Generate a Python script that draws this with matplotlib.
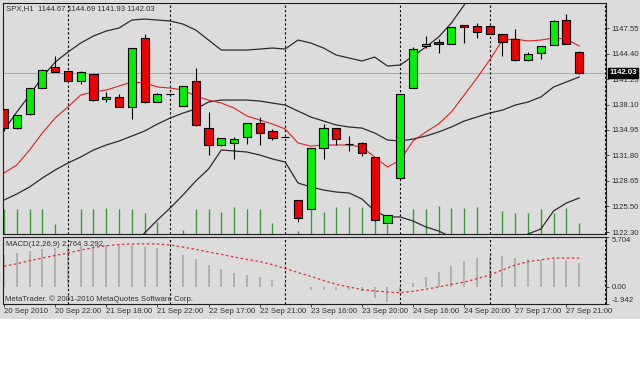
import matplotlib
matplotlib.use("Agg")
import matplotlib.pyplot as plt
from matplotlib.patches import Rectangle
import numpy as np

plt.rcParams['font.family'] = ['Liberation Sans', 'DejaVu Sans']

# SPX H1 candles
opens = [1137.55, 1135.19, 1136.93, 1140.15, 1142.76, 1142.26, 1141.02, 1141.89, 1138.79, 1139.04,
         1137.80, 1146.35, 1138.42, 1139.41, 1137.92, 1141.02, 1135.19, 1133.09, 1133.34, 1134.08,
         1135.81, 1134.82, 1134.08, 1126.27, 1125.16, 1132.72, 1135.19, 1133.21, 1133.34, 1131.60,
         1123.42, 1129.00, 1140.15, 1145.36, 1145.85, 1145.61, 1147.96, 1147.83, 1147.83, 1146.84,
         1146.22, 1143.62, 1144.49, 1145.48, 1148.58, 1144.67]
highs = [1137.60, 1136.85, 1140.20, 1142.45, 1144.12, 1142.30, 1142.26, 1141.95, 1139.66, 1139.41,
         1145.15, 1146.84, 1139.53, 1139.45, 1140.45, 1142.63, 1137.18, 1134.00, 1134.08, 1135.85,
         1136.56, 1135.07, 1134.12, 1126.30, 1132.75, 1135.69, 1135.25, 1134.20, 1133.46, 1131.65,
         1124.45, 1139.45, 1145.23, 1146.60, 1146.22, 1147.75, 1148.00, 1148.21, 1147.90, 1146.90,
         1147.46, 1144.61, 1145.40, 1148.58, 1149.32, 1144.69]
lows = [1134.82, 1135.10, 1136.81, 1140.10, 1142.10, 1140.95, 1140.65, 1138.60, 1138.42, 1137.75,
        1136.31, 1138.35, 1138.40, 1139.38, 1137.90, 1135.50, 1131.85, 1133.00, 1131.36, 1133.21,
        1133.09, 1133.71, 1134.05, 1123.55, 1125.10, 1131.36, 1133.09, 1132.35, 1131.73, 1123.70,
        1123.40, 1128.95, 1140.10, 1145.11, 1144.49, 1145.55, 1145.73, 1146.35, 1146.80, 1144.12,
        1143.55, 1143.55, 1143.75, 1145.45, 1145.55, 1141.93]
closes = [1135.19, 1136.81, 1140.15, 1142.38, 1142.14, 1141.02, 1142.14, 1138.66, 1139.04, 1137.80,
          1145.11, 1138.42, 1139.41, 1139.41, 1140.40, 1135.57, 1133.09, 1133.96, 1133.83, 1135.81,
          1134.58, 1133.96, 1134.08, 1124.04, 1132.72, 1135.19, 1133.83, 1133.21, 1132.10, 1123.79,
          1124.41, 1139.41, 1144.98, 1145.61, 1145.61, 1147.71, 1147.71, 1147.09, 1146.84, 1145.85,
          1143.62, 1144.37, 1145.36, 1148.45, 1145.61, 1142.03]
volumes = [2500, 2500, 2500, 2500, 1000, 0, 2500, 2500, 2600, 2500,
           2500, 2100, 1200, 0, 400, 2500, 2500, 2200, 2700, 2500,
           2500, 1100, 0, 300, 2500, 2200, 2700, 2700, 2700, 1800,
           1000, 0, 2500, 2500, 2800, 2600, 2600, 2700, 0, 2300,
           2100, 2100, 2500, 2100, 2600, 1100]

# Bollinger bands (black) and moving average (red)
bb_upper = [1134.95, 1137.18, 1139.28, 1141.52, 1143.37, 1144.61, 1145.73, 1146.60, 1147.22, 1147.59,
            1148.58, 1148.70, 1148.58, 1148.46, 1148.08, 1147.34, 1146.10, 1144.86, 1144.86, 1144.86,
            1144.98, 1145.11, 1144.98, 1146.10, 1145.73, 1145.11, 1144.24, 1143.87, 1143.50, 1143.99,
            1142.88, 1143.00, 1144.12, 1145.23, 1146.47, 1148.21, 1150.44, 1153.04, 1154.28, 1154.77,
            1155.02, 1154.77, 1155.39, 1155.64, 1155.89, 1156.51]
bb_mid = [1126.27, 1127.02, 1127.89, 1129.00, 1129.99, 1130.86, 1131.60, 1132.47, 1133.09, 1133.58,
          1134.20, 1134.82, 1135.69, 1136.43, 1137.05, 1137.55, 1138.42, 1138.66, 1138.66, 1138.66,
          1138.54, 1138.29, 1138.04, 1137.30, 1136.56, 1136.06, 1135.57, 1135.32, 1135.19, 1134.58,
          1133.71, 1133.58, 1133.83, 1134.20, 1134.70, 1135.32, 1136.06, 1136.56, 1137.05, 1137.42,
          1138.04, 1138.42, 1139.04, 1140.28, 1140.90, 1141.52]
bb_lower = [1117.60, 1116.86, 1116.48, 1116.48, 1116.61, 1117.10, 1117.48, 1118.34, 1118.96, 1119.33,
            1120.70, 1122.18, 1123.79, 1125.28, 1126.89, 1128.63, 1130.11, 1132.47, 1132.35, 1132.22,
            1131.85, 1131.36, 1130.98, 1128.38, 1127.89, 1127.51, 1127.26, 1127.14, 1126.40, 1124.91,
            1124.17, 1124.17, 1123.67, 1122.93, 1122.43, 1121.69, 1120.70, 1120.08, 1119.83, 1120.08,
            1121.07, 1122.06, 1122.68, 1124.91, 1125.90, 1126.52]
ma_red = [1129.62, 1130.61, 1132.47, 1134.58, 1136.43, 1137.80, 1139.28, 1139.66, 1139.90, 1140.40,
          1140.90, 1140.77, 1140.28, 1140.15, 1139.90, 1139.16, 1138.66, 1138.29, 1137.67, 1136.68,
          1136.19, 1135.69, 1135.07, 1133.34, 1132.96, 1133.09, 1133.09, 1133.09, 1132.84, 1131.60,
          1130.36, 1131.23, 1133.58, 1134.70, 1135.69, 1137.18, 1139.28, 1141.39, 1143.62, 1146.10,
          1146.22, 1145.98, 1146.10, 1146.35, 1146.22, 1145.36]

# MACD(12,26,9)
macd = [3.70, 3.88, 4.11, 4.34, 4.45, 4.57, 4.68, 4.68, 4.79, 4.79,
        4.79, 4.57, 4.45, 4.00, 3.65, 3.20, 2.51, 2.05, 1.60, 1.37,
        1.14, 0.80, 0.46, 0.05, -0.35, -0.30, -0.30, -0.30, -0.50, -1.26,
        -1.68, -0.60, 0.50, 1.14, 1.75, 2.43, 3.00, 3.28, 3.54, 3.54,
        3.34, 3.16, 3.08, 3.16, 3.08, 2.764]
signal = [2.35, 2.65, 3.00, 3.30, 3.60, 3.88, 4.20, 4.50, 4.70, 4.85,
          4.91, 4.93, 4.91, 4.79, 4.55, 4.30, 4.00, 3.72, 3.42, 3.15,
          2.90, 2.55, 2.10, 1.65, 1.20, 0.75, 0.30, 0.00, -0.30, -0.45,
          -0.58, -0.65, -0.50, -0.25, 0.00, 0.30, 0.55, 0.95, 1.37, 1.95,
          2.50, 2.90, 3.10, 3.30, 3.30, 3.292]

day_starts = [5, 13, 22, 31, 38, 47]
price_ticks = [1147.55, 1144.40, 1141.25, 1138.10, 1134.95, 1131.80, 1128.65, 1125.50, 1122.30]
macd_ticks = [5.704, 0.0, -1.942]
x_labels = ["20 Sep 2010", "20 Sep 22:00", "21 Sep 18:00", "21 Sep 22:00", "22 Sep 17:00",
            "22 Sep 21:00", "23 Sep 16:00", "23 Sep 20:00", "24 Sep 16:00", "24 Sep 20:00",
            "27 Sep 17:00", "27 Sep 21:00"]
label_bars = [0, 4, 8, 12, 16, 20, 24, 28, 32, 36, 40, 44]

BG = '#dcdcdc'
TXT = '#303030'
FS = 5.6

fig = plt.figure(figsize=(6.4, 3.71), dpi=100)
fig.patch.set_facecolor('white')
fig.add_artist(Rectangle((0, 0.14), 1, 0.86, transform=fig.transFigure,
                         facecolor=BG, edgecolor='none', zorder=0))

ax = fig.add_axes([0.0047, 0.3693, 0.9422, 0.6226])
vol_ax = ax.twinx()
macd_ax = fig.add_axes([0.0047, 0.1806, 0.9422, 0.1806], sharex=ax)

x = np.arange(len(closes))
o, h, l, c = map(np.array, (opens, highs, lows, closes))
up = c >= o

# volumes behind everything
vol_ax.vlines(x, 0, volumes, color='#3c963c', lw=1.0)
vol_ax.set_ylim(0, 23100)
vol_ax.set_yticks([])
for s in vol_ax.spines.values():
    s.set_visible(False)
ax.set_zorder(vol_ax.get_zorder() + 1)
ax.patch.set_visible(False)
vol_ax.patch.set_visible(False)
macd_ax.patch.set_visible(False)

ax.axhline(closes[-1], color='#a9a9a9', lw=0.7, zorder=0.5)
for d in day_starts:
    ax.axvline(d, color='black', lw=0.8, ls=(0, (2, 2)), zorder=0.6)
    macd_ax.axvline(d, color='black', lw=0.8, ls=(0, (2, 2)), zorder=3)

ax.plot(x, bb_upper, color='#2b2b2b', lw=0.9, zorder=1)
ax.plot(x, bb_mid, color='#2b2b2b', lw=0.9, zorder=1)
ax.plot(x, bb_lower, color='#2b2b2b', lw=0.9, zorder=1)
ax.plot(x, ma_red, color='#e02020', lw=0.8, zorder=1)

ax.vlines(x, l, h, color='black', lw=0.8, zorder=2)
ax.bar(x, c - o, bottom=o, width=0.64, color=np.where(up, '#00f000', '#ee0000'),
       edgecolor='black', linewidth=0.8, zorder=3)

ax.set_xlim(-0.08, 47.1)
ax.set_ylim(1122.06, 1150.69)
ax.yaxis.tick_right()
ax.set_yticks(price_ticks)
ax.set_yticklabels([f"{v:.2f}" for v in price_ticks])
ax.tick_params(axis='y', direction='out', length=2.5, width=0.6, pad=1.5,
               labelsize=FS, colors=TXT)
ax.tick_params(axis='x', bottom=False, labelbottom=False)

ax.text(1.006, closes[-1], f"{closes[-1]:.2f}", transform=ax.get_yaxis_transform(),
        ha='left', va='center', color='white', fontsize=FS, fontweight='bold',
        bbox=dict(boxstyle='square,pad=0.15', fc='black', ec='black'), zorder=10, clip_on=False)
ax.text(0.005, 0.978, f"SPX,H1  {opens[-1]:.2f} {highs[-1]:.2f} {lows[-1]:.2f} {closes[-1]:.2f}",
        transform=ax.transAxes, ha='left', va='center', fontsize=FS, color=TXT)

# MACD panel
macd_ax.vlines(x, 0, macd, color='#adadad', lw=1.3, zorder=1)
macd_ax.plot(x, signal, color='#e03030', lw=0.9, ls=(0, (2, 2)), zorder=2)
macd_ax.set_ylim(-1.942, 5.704)
macd_ax.yaxis.tick_right()
macd_ax.set_yticks(macd_ticks)
macd_ax.set_yticklabels([f"{v:.3f}" if v != 0 else "0.00" for v in macd_ticks])
macd_ax.tick_params(axis='y', direction='out', length=2.5, width=0.6, pad=1.5,
                    labelsize=FS, colors=TXT)
ylabs = macd_ax.get_yticklabels()
ylabs[0].set_va('top')
ylabs[-1].set_va('bottom')
macd_ax.set_xticks(label_bars)
macd_ax.set_xticklabels(x_labels)
for t in macd_ax.get_xticklabels():
    t.set_ha('left')
macd_ax.tick_params(axis='x', direction='out', length=2, width=0.6, pad=0.8,
                    labelsize=FS, colors=TXT)
macd_ax.text(0.005, 0.895, f"MACD(12,26,9) {macd[-1]:.3f} {signal[-1]:.3f}",
             transform=macd_ax.transAxes, ha='left', va='center', fontsize=FS, color=TXT)
macd_ax.text(0.004, 0.07, "MetaTrader. \u00a9 2001-2010 MetaQuotes Software Corp.",
             transform=macd_ax.transAxes, ha='left', va='center', fontsize=FS, color=TXT)

for a in (ax, macd_ax):
    for s in a.spines.values():
        s.set_color('#1e1e1e')
        s.set_linewidth(0.8)

fig.savefig('out.png', dpi=100, facecolor=fig.get_facecolor())
